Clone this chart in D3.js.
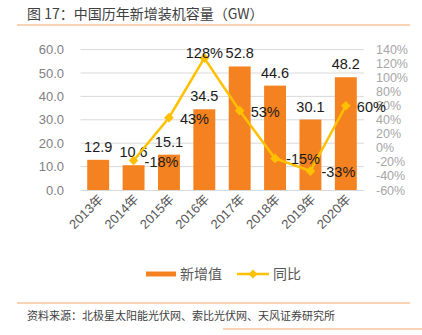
<!DOCTYPE html>
<html>
<head>
<meta charset="utf-8">
<script src="https://cdn.jsdelivr.net/npm/d3@7"></script>
<style>
  html, body { margin: 0; padding: 0; background: #fff; }
  svg { display: block; font-family: "Liberation Sans", Arial, "Noto Sans CJK SC", sans-serif; }
</style>
</head>
<body>
<svg id="chart" width="422" height="335"></svg>
<script>
// Annual new PV installations in China (GW) and year-on-year growth (%)
const years = ["2013年", "2014年", "2015年", "2016年", "2017年", "2018年", "2019年", "2020年"];
const added = [12.9, 10.6, 15.1, 34.5, 52.8, 44.6, 30.1, 48.2];
const yoy = [null, -18, 43, 128, 53, -15, -33, 60];
const yoyLabels = ["", "-18%", "43%", "128%", "53%", "-15%", "-33%", "60%"];
const leftTicks = [0, 10, 20, 30, 40, 50, 60];
const rightTicks = [-60, -40, -20, 0, 20, 40, 60, 80, 100, 120, 140];

const barColor = "#F58220";
const lineColor = "#FFC000";
const rule = "#F5A66A";
const cjk = "'Noto Sans CJK SC', sans-serif";

const svg = d3.select("#chart");

// title and rules
svg.append("text").attr("x", 27).attr("y", 19)
  .attr("font-family", cjk).attr("font-size", 14).attr("fill", "#404040")
  .text("图 17：中国历年新增装机容量（GW）");
svg.append("line").attr("x1", 17).attr("x2", 410).attr("y1", 25).attr("y2", 25)
  .attr("stroke", rule).attr("stroke-width", 1);

const x = d3.scaleBand().domain(years).range([80.5, 363.5]).paddingInner(0.38).paddingOuter(0.19);
const yL = d3.scaleLinear().domain([0, 60]).range([190, 49.6]);
const yR = d3.scaleLinear().domain([-60, 140]).range([190, 49.6]);

// gridlines
svg.append("g").selectAll("line").data(leftTicks.slice(1)).join("line")
  .attr("x1", 80.5).attr("x2", 364).attr("y1", d => yL(d)).attr("y2", d => yL(d))
  .attr("stroke", "#d9d9d9").attr("stroke-width", 1);

// left axis
const gL = svg.append("g").attr("transform", "translate(80,0)")
  .call(d3.axisLeft(yL).tickValues(leftTicks).tickFormat(d3.format(".1f")).tickSize(0).tickPadding(16));
gL.select(".domain").remove();
gL.selectAll("text").attr("font-size", 13).attr("fill", "#7f7f7f");

// right axis
const gR = svg.append("g").attr("transform", "translate(366,0)")
  .call(d3.axisRight(yR).tickValues(rightTicks).tickFormat(d => d + "%").tickSize(0).tickPadding(10));
gR.select(".domain").remove();
gR.selectAll("text").attr("font-size", 12.5).attr("fill", "#a6a6a6");

// bars
svg.append("g").selectAll("rect").data(added).join("rect")
  .attr("x", (d, i) => x(years[i])).attr("width", x.bandwidth())
  .attr("y", d => yL(d)).attr("height", d => yL(0) - yL(d))
  .attr("fill", barColor);

// baseline
svg.append("line").attr("x1", 80.5).attr("x2", 364).attr("y1", 190.5).attr("y2", 190.5)
  .attr("stroke", "#d9d9d9").attr("stroke-width", 1);

// bar value labels
svg.append("g").selectAll("text").data(added).join("text")
  .attr("x", (d, i) => x(years[i]) + x.bandwidth() / 2)
  .attr("y", d => yL(d) - 8)
  .attr("text-anchor", "middle").attr("font-size", 14.5).attr("fill", "#1a1a1a")
  .text(d => d.toFixed(1));

// growth line
const pts = yoy.map((v, i) => ({ v, i })).filter(p => p.v !== null);
const cx = p => x(years[p.i]) + x.bandwidth() / 2;
svg.append("path").datum(pts)
  .attr("d", d3.line().x(cx).y(p => yR(p.v)))
  .attr("fill", "none").attr("stroke", lineColor).attr("stroke-width", 2.5);
svg.append("g").selectAll("path").data(pts).join("path")
  .attr("transform", p => `translate(${cx(p)},${yR(p.v)})`)
  .attr("d", d3.symbol(d3.symbolDiamond2, 60)).attr("transform", p => `translate(${cx(p)},${yR(p.v)}) rotate(0)`)
  .attr("fill", lineColor);

// growth labels: above the peak, to the right elsewhere
svg.append("g").selectAll("text").data(pts).join("text")
  .attr("x", p => p.v === 128 ? cx(p) : cx(p) + 11)
  .attr("y", p => p.v === 128 ? yR(p.v) + 0 : yR(p.v) + 6)
  .attr("text-anchor", p => p.v === 128 ? "middle" : "start")
  .attr("font-size", 14.5).attr("fill", "#1a1a1a")
  .text(p => yoyLabels[p.i]);

// category labels
svg.append("g").selectAll("text").data(years).join("text")
  .attr("transform", d => `translate(${x(d) + x.bandwidth() / 2 + 6},${200}) rotate(-45)`)
  .attr("text-anchor", "end").attr("font-size", 13).attr("fill", "#595959")
  .text(d => d);

// legend
const lg = svg.append("g");
lg.append("rect").attr("x", 146).attr("y", 271.5).attr("width", 30).attr("height", 5).attr("fill", barColor);
lg.append("text").attr("x", 180).attr("y", 279).attr("font-family", cjk).attr("font-size", 14).attr("fill", "#595959").text("新增值");
lg.append("line").attr("x1", 237).attr("x2", 269).attr("y1", 274).attr("y2", 274).attr("stroke", lineColor).attr("stroke-width", 2.5);
lg.append("path").attr("transform", "translate(253,274)").attr("d", d3.symbol(d3.symbolDiamond2, 50)).attr("fill", lineColor);
lg.append("text").attr("x", 273).attr("y", 279).attr("font-family", cjk).attr("font-size", 14).attr("fill", "#595959").text("同比");

// source note and rules
svg.append("line").attr("x1", 17).attr("x2", 410).attr("y1", 303).attr("y2", 303).attr("stroke", rule).attr("stroke-width", 1);
svg.append("text").attr("x", 27).attr("y", 320)
  .attr("font-family", cjk).attr("font-size", 11).attr("fill", "#404040")
  .text("资料来源：北极星太阳能光伏网、索比光伏网、天风证券研究所");
svg.append("line").attr("x1", 223).attr("x2", 422).attr("y1", 329).attr("y2", 329).attr("stroke", rule).attr("stroke-width", 1);
</script>
</body>
</html>
